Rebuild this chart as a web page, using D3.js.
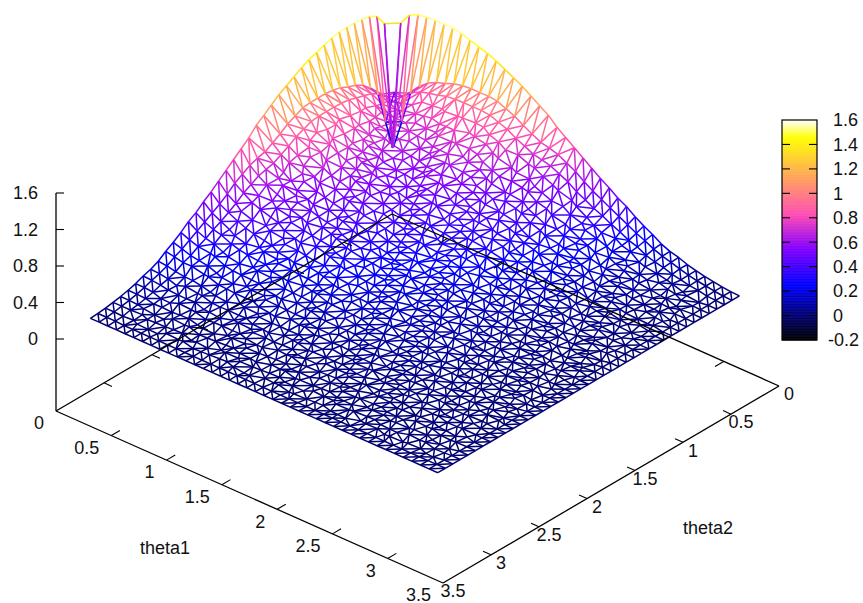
<!DOCTYPE html>
<html>
<head>
<meta charset="utf-8">
<script src="https://cdn.jsdelivr.net/npm/d3@7"></script>
<style>
  html, body { margin: 0; padding: 0; background: #fff; }
  svg { display: block; }
  text { font-family: "Liberation Sans", sans-serif; font-size: 18px; fill: #111; }
</style>
</head>
<body>
<svg id="plot" width="863" height="603"></svg>
<script>
// tick values
let theta1Ticks = [0, 0.5, 1, 1.5, 2, 2.5, 3, 3.5];
let theta2Ticks = [0, 0.5, 1, 1.5, 2, 2.5, 3, 3.5];
let zTicks = [0, 0.4, 0.8, 1.2, 1.6];
let cbTicks = [-0.2, 0, 0.2, 0.4, 0.6, 0.8, 1, 1.2, 1.4, 1.6];

// mesh has 41 x 41 nodes over theta = 0..pi
let gridSize = 41;
let thetaMax = 3.14159;

// small offsets of the inner nodes, the mesh is not a regular grid
let nudge1 = [0.017, -0.010, 0.005, -0.019, 0.013, -0.003, 0.021, -0.015, 0.007, -0.021, 0.010, -0.006, 0.015];
let nudge2 = [-0.014, 0.019, -0.005, 0.010, -0.021, 0.015, 0.002, -0.017, 0.021, -0.009, 0.006];

// z, row i holds z(i, j) for j = i..40 (surface is symmetric in theta1, theta2)
let zRows = [
  [-0.07,1.34,1.47,1.515,1.53,1.54,1.54,1.54,1.52,1.49,1.46,1.43,1.39,1.34,1.29,1.24,1.175,1.11,1.05,.96,.89,.82,.75,.68,.61,.55,.48,.43,.36,.30,.25,.19,.15,.125,.09,.065,.045,.03,.015,.005,0],
  [.02,.35,.70,.82,.90,.95,.98,1.02,1.04,1.05,1.05,1.05,1.04,1.00,.96,.90,.85,.80,.78,.75,.70,.65,.58,.52,.47,.42,.37,.32,.27,.23,.18,.145,.12,.09,.065,.045,.03,.015,.005,0],
  [.72,.72,.80,.85,.88,.90,.93,.94,.945,.945,.945,.935,.90,.865,.81,.765,.72,.70,.675,.63,.585,.52,.47,.42,.38,.33,.29,.24,.21,.16,.13,.11,.08,.06,.04,.03,.01,.005,0],
  [.72,.74,.78,.81,.83,.84,.85,.86,.86,.86,.85,.82,.79,.74,.70,.66,.64,.62,.57,.53,.48,.43,.39,.34,.30,.26,.22,.19,.15,.12,.10,.07,.05,.04,.02,.01,0,0],
  [.72,.74,.76,.77,.78,.78,.79,.79,.79,.78,.75,.72,.68,.64,.60,.59,.56,.53,.49,.44,.39,.35,.32,.28,.24,.20,.17,.14,.11,.09,.07,.05,.03,.02,.01,0,0],
  [.72,.72,.72,.72,.72,.72,.72,.72,.72,.69,.66,.62,.59,.55,.54,.52,.48,.45,.40,.36,.32,.29,.26,.22,.19,.16,.12,.10,.08,.06,.04,.03,.02,.01,0,0],
  [.72,.71,.69,.68,.67,.67,.67,.67,.64,.61,.58,.54,.51,.50,.48,.45,.42,.37,.33,.30,.27,.24,.20,.17,.15,.12,.09,.08,.06,.04,.03,.02,.01,0,0],
  [.68,.66,.64,.63,.63,.63,.62,.60,.58,.54,.51,.48,.47,.45,.42,.39,.35,.31,.28,.25,.22,.19,.16,.14,.11,.09,.07,.05,.04,.03,.02,.01,0,0],
  [.63,.61,.59,.59,.59,.58,.56,.54,.50,.48,.45,.44,.42,.39,.36,.32,.29,.26,.24,.21,.18,.15,.13,.10,.08,.07,.05,.04,.03,.02,.01,0,0],
  [.59,.56,.56,.56,.55,.53,.51,.48,.45,.42,.41,.40,.37,.34,.31,.28,.25,.22,.20,.17,.14,.12,.10,.08,.06,.05,.03,.02,.01,.01,0,0],
  [.55,.53,.52,.52,.50,.48,.45,.43,.40,.39,.38,.35,.33,.29,.26,.24,.21,.19,.16,.14,.12,.09,.07,.06,.05,.03,.02,.02,.01,0,0],
  [.50,.49,.49,.47,.45,.42,.40,.38,.37,.35,.33,.31,.27,.24,.22,.20,.17,.15,.13,.11,.08,.07,.06,.04,.03,.02,.01,.01,0,0],
  [.46,.46,.44,.42,.40,.37,.35,.34,.33,.31,.29,.26,.23,.21,.18,.16,.14,.12,.10,.08,.06,.05,.04,.03,.02,.01,.01,0,0],
  [.43,.41,.39,.37,.35,.33,.32,.31,.29,.27,.24,.21,.19,.17,.15,.13,.11,.09,.07,.06,.05,.04,.03,.02,.01,.01,0,0],
  [.38,.36,.34,.32,.30,.30,.28,.27,.25,.22,.20,.18,.16,.14,.12,.10,.09,.07,.05,.05,.03,.02,.02,.01,.01,0,0],
  [.34,.32,.30,.28,.28,.27,.25,.23,.21,.18,.17,.15,.13,.11,.10,.08,.06,.05,.04,.03,.02,.02,.01,.01,0,0],
  [.30,.28,.26,.26,.25,.23,.21,.19,.17,.16,.14,.12,.11,.09,.08,.06,.05,.04,.03,.02,.01,.01,0,0,0],
  [.26,.25,.24,.23,.22,.20,.18,.16,.15,.13,.11,.10,.08,.07,.06,.04,.04,.03,.02,.01,.01,0,0,0],
  [.23,.23,.22,.20,.19,.17,.15,.14,.12,.11,.09,.08,.07,.05,.04,.03,.03,.02,.01,.01,0,0,0],
  [.21,.20,.19,.18,.16,.14,.13,.11,.10,.09,.07,.06,.05,.04,.03,.02,.01,.01,.01,0,0,0],
  [.19,.18,.16,.15,.13,.12,.11,.09,.08,.07,.06,.05,.04,.03,.02,.02,.01,.01,0,0,0],
  [.16,.15,.14,.12,.11,.10,.09,.08,.06,.05,.04,.03,.03,.02,.02,.01,.01,0,0,0],
  [.14,.13,.11,.10,.09,.08,.07,.06,.05,.04,.03,.03,.02,.01,.01,.01,0,0,0],
  [.12,.11,.10,.09,.08,.07,.06,.05,.04,.04,.03,.02,.02,.01,.01,0,0,0],
  [.10,.09,.08,.07,.06,.05,.05,.04,.03,.03,.02,.02,.01,.01,0,0,0],
  [.08,.07,.06,.06,.05,.04,.04,.03,.02,.02,.01,.01,.01,0,0,0],
  [.07,.06,.05,.05,.04,.03,.03,.02,.02,.01,.01,.01,0,0,0],
  [.05,.05,.04,.04,.03,.03,.02,.02,.01,.01,.01,0,0,0],
  [.04,.04,.03,.03,.02,.02,.02,.01,.01,.01,0,0,0],
  [.03,.03,.02,.02,.02,.01,.01,.01,.01,0,0,0],
  [.03,.02,.02,.02,.01,.01,.01,.01,0,0,0],
  [.02,.02,.01,.01,.01,.01,.01,0,0,0],
  [.02,.01,.01,.01,.01,.01,0,0,0],
  [.01,.01,.01,.01,.01,0,0,0],
  [.01,.01,.01,0,0,0,0],
  [.01,.01,0,0,0,0],
  [.01,0,0,0,0],
  [0,0,0,0],
  [0,0,0],
  [0,0],
  [0]
];

let svg = d3.select('#plot');

// 3d projection of the gnuplot box
let backX = 392, backY = 214, zeroLift = 72.5;
let x1 = d3.scaleLinear().domain([0, 3.5]).range([0, 387]);
let y1 = d3.scaleLinear().domain([0, 3.5]).range([0, 172]);
let x2 = d3.scaleLinear().domain([0, 3.5]).range([0, -336]);
let y2 = d3.scaleLinear().domain([0, 3.5]).range([0, 197]);
let zLift = d3.scaleLinear().domain([0, 1.6]).range([zeroLift, zeroLift + 146]);

function project(t1, t2, z) {
    return [backX + x1(t1) + x2(t2), backY + y1(t1) + y2(t2) - (z === null ? 0 : zLift(z))];
}

// gnuplot palette rgbformulae 30,31,32
let cbNorm = d3.scaleLinear().domain([-0.2, 1.6]).range([0, 1]).clamp(true);
function paletteColor(z) {
    let v = cbNorm(z);
    let r = v / 0.32 - 0.78125;
    let g = 2 * v - 0.84;
    let b = v < 0.25 ? 4 * v : v < 0.42 ? 1 : v < 0.92 ? -2 * v + 1.84 : v / 0.08 - 11.5;
    let c = (u) => Math.round(255 * Math.max(0, Math.min(1, u)));
    return `rgb(${c(r)},${c(g)},${c(b)})`;
}

function line(g, a, b, width) {
    g.append('line')
        .attr('x1', a[0]).attr('y1', a[1])
        .attr('x2', b[0]).attr('y2', b[1])
        .attr('stroke', '#000')
        .attr('stroke-width', width);
}

// Surface
let nodes = [];
let step = thetaMax / (gridSize - 1);
d3.range(gridSize).forEach((i) => {
    d3.range(gridSize).forEach((j) => {
        let inner = i > 2 && j > 2 && i < gridSize - 2 && j < gridSize - 2;
        let lo = Math.min(i, j), hi = Math.max(i, j);
        nodes.push({
            t1: i * step + (inner ? nudge1[(i * 3 + j * 5) % nudge1.length] : 0),
            t2: j * step + (inner ? nudge2[(i * 7 + j * 2) % nudge2.length] : 0),
            z: zRows[lo][hi - lo]
        });
    });
});

let delaunay = d3.Delaunay.from(nodes, (d) => d.t1, (d) => d.t2);
let edges = [];
delaunay.halfedges.forEach((other, e) => {
    if (other > e || other === -1) {
        let next = e % 3 === 2 ? e - 2 : e + 1;
        edges.push([nodes[delaunay.triangles[e]], nodes[delaunay.triangles[next]]]);
    }
});

svg.append('g')
    .selectAll('line')
    .data(edges)
    .enter()
    .append('line')
    .attr('x1', (d) => project(d[0].t1, d[0].t2, d[0].z)[0])
    .attr('y1', (d) => project(d[0].t1, d[0].t2, d[0].z)[1])
    .attr('x2', (d) => project(d[1].t1, d[1].t2, d[1].z)[0])
    .attr('y2', (d) => project(d[1].t1, d[1].t2, d[1].z)[1])
    .attr('stroke', (d) => paletteColor((d[0].z + d[1].z) / 2))
    .attr('stroke-width', 1.5);

// Box lines go over the mesh
let box = svg.append('g');
let corner0 = project(0, 3.5, null);
let corner1 = project(3.5, 3.5, null);
let corner2 = project(3.5, 0, null);
let corner3 = project(0, 0, null);
line(box, corner0, corner1, 1.3);
line(box, corner1, corner2, 1.3);
line(box, corner0, corner3, 1.3);
line(box, corner3, corner2, 1.3);
line(box, corner0, [corner0[0], 193], 1.3);

let tickLen = 0.09; // in theta units

theta1Ticks.slice(1, -1).forEach((t) => {
    line(box, project(t, 3.5, null), project(t, 3.5 - tickLen, null), 1.1);
    line(box, project(t, 0, null), project(t, tickLen, null), 1.1);
});
theta2Ticks.slice(1, -1).forEach((t) => {
    line(box, project(3.5, t, null), project(3.5 - tickLen * 0.8, t, null), 1.1);
    line(box, project(0, t, null), project(tickLen * 0.8, t, null), 1.1);
});

let zAxisY = d3.scaleLinear().domain([0, 1.6]).range([339, 193]);
zTicks.forEach((t) => {
    line(box, [56, zAxisY(t)], [64, zAxisY(t)], 1.1);
    svg.append('text')
        .attr('x', 38).attr('y', zAxisY(t)).attr('dy', '0.35em')
        .attr('text-anchor', 'end')
        .text(t);
});

theta1Ticks.forEach((t) => {
    let p = project(t, 3.5, null);
    svg.append('text')
        .attr('x', p[0] - 12).attr('y', p[1] + 12).attr('dy', '0.35em')
        .attr('text-anchor', 'end')
        .text(t);
});
theta2Ticks.forEach((t) => {
    let p = project(3.5, t, null);
    svg.append('text')
        .attr('x', p[0] + 10).attr('y', p[1] + 8).attr('dy', '0.35em')
        .attr('text-anchor', 'middle')
        .text(t);
});

svg.append('text').attr('x', 165).attr('y', 548).attr('dy', '0.35em')
    .attr('text-anchor', 'middle').text('theta1');
svg.append('text').attr('x', 708).attr('y', 528).attr('dy', '0.35em')
    .attr('text-anchor', 'middle').text('theta2');

// Colour box
let cbY = d3.scaleLinear().domain([-0.2, 1.6]).range([340, 120]);
let cb = svg.append('g');
cb.selectAll('rect')
    .data(d3.range(-0.2, 1.6, 0.005))
    .enter()
    .append('rect')
    .attr('x', 782)
    .attr('y', (d) => cbY(d + 0.005))
    .attr('width', 35)
    .attr('height', (d) => cbY(d) - cbY(d + 0.005) + 0.5)
    .attr('fill', (d) => paletteColor(d));
cb.append('rect')
    .attr('x', 782).attr('y', 120).attr('width', 35).attr('height', 220)
    .attr('fill', 'none').attr('stroke', '#000').attr('stroke-width', 1.2);

cbTicks.forEach((t) => {
    let y = cbY(t);
    if (t > -0.2 && t < 1.6) {
        line(cb, [782, y], [790, y], 1.1);
        line(cb, [809, y], [817, y], 1.1);
    }
    svg.append('text')
        .attr('x', t < 0 ? 828 : 833).attr('y', y).attr('dy', '0.35em')
        .text(t);
});
</script>
</body>
</html>
